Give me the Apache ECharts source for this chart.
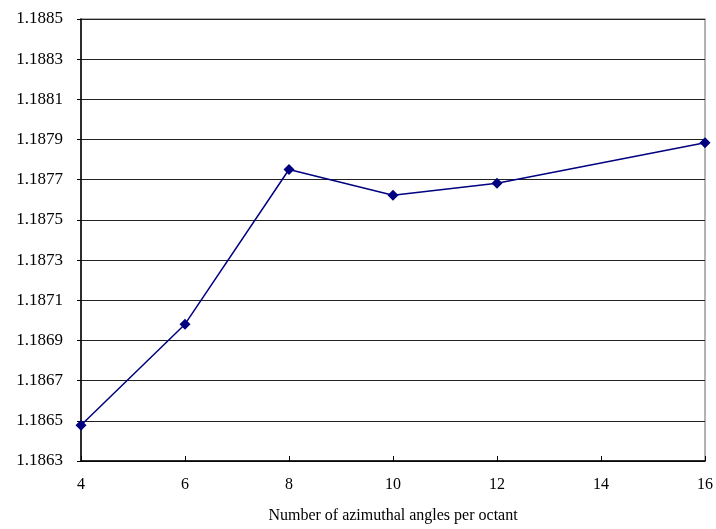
<!DOCTYPE html>
<html><head><meta charset="utf-8">
<script src="https://cdn.jsdelivr.net/npm/echarts@6/dist/echarts.min.js"></script>
<style>html,body{margin:0;padding:0;background:#fff}#c{width:716px;height:529px}</style>
</head><body><div id="c"></div>
<script>
const xValues = [4, 6, 8, 10, 12, 16];
const yValues = [1.186478, 1.186981, 1.187751, 1.187623, 1.187683, 1.187884];
const xTicks = [4, 6, 8, 10, 12, 14, 16];
const yTickLabels = ['1.1863','1.1865','1.1867','1.1869','1.1871','1.1873','1.1875','1.1877','1.1879','1.1881','1.1883','1.1885'];
const xName = 'Number of azimuthal angles per octant';

const chart = echarts.init(document.getElementById('c'));
const font = '"Liberation Serif", "Times New Roman", serif';
chart.setOption({
  animation: false,
  grid: {left: 81, right: 11, top: 19, bottom: 68, show: true, borderColor: '#999', borderWidth: 1.5},
  xAxis: {
    type: 'value', min: 4, max: 16, interval: 2,
    name: xName, nameLocation: 'middle', nameGap: 47,
    nameTextStyle: {fontFamily: font, fontSize: 16, color: '#000'},
    axisLine: {onZero: false, lineStyle: {color: '#000', width: 1.5}},
    axisTick: {inside: true, length: 5, lineStyle: {color: '#000'}},
    axisLabel: {fontFamily: font, fontSize: 16, color: '#000', margin: 16},
    splitLine: {show: false}
  },
  yAxis: {
    type: 'value', min: 1.1863, max: 1.1885, interval: 0.0002,
    axisLine: {show: true, lineStyle: {color: '#000', width: 1.5}},
    axisTick: {show: true, length: 4, lineStyle: {color: '#000'}},
    axisLabel: {fontFamily: font, fontSize: 17, color: '#000', margin: 18,
      formatter: v => v.toFixed(4)},
    splitLine: {show: true, lineStyle: {color: '#222', width: 1}}
  },
  series: [{
    type: 'line',
    data: xValues.map((x, i) => [x, yValues[i]]),
    symbol: 'diamond', symbolSize: 11,
    itemStyle: {color: '#000080'},
    lineStyle: {color: '#000080', width: 1.5}
  }]
});
</script></body></html>
